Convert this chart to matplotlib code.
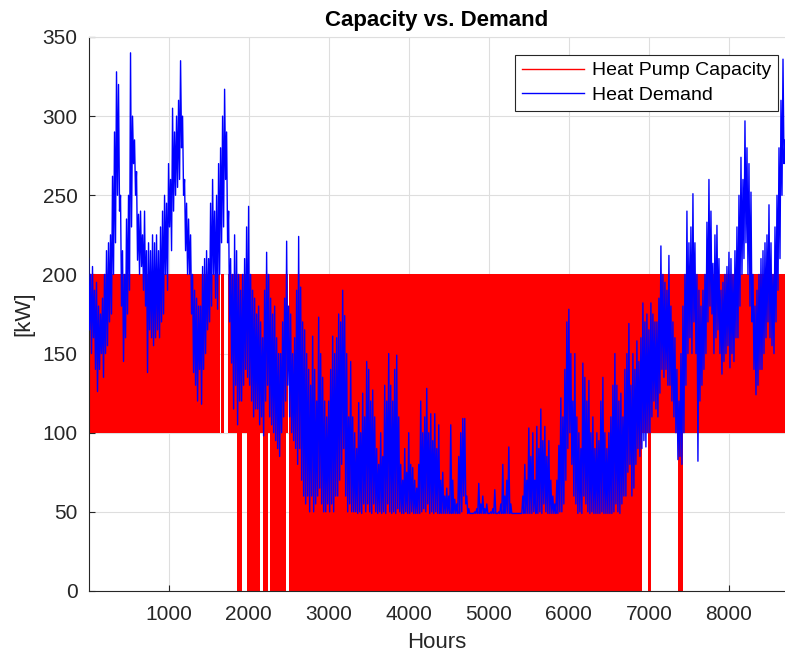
import numpy as np
import matplotlib
matplotlib.use("Agg")
import matplotlib.pyplot as plt
from matplotlib.lines import Line2D

plt.rcParams['font.family'] = ['Liberation Sans', 'DejaVu Sans']

# ---- heat demand (kW): for every 25 h window the
# daily peak (upper) and the daily low (lower); one row = 100 h
demand_step_h = 25
demand_upper_kw = [
    210, 200, 205, 190,   195, 180, 175, 185,   200, 215, 220, 225,   262, 290, 328, 320,
    250, 215, 200, 235,   250, 340, 300, 285,   265, 238, 240, 225,   240, 215, 220, 215,
    225, 220, 225, 215,   230, 240, 250, 245,   270, 260, 305, 290,   300, 310, 335, 300,
    260, 245, 235, 225,   200, 190, 185, 180,   180, 205, 210, 215,   210, 245, 260, 240,
    250, 270, 280, 300,   317, 290, 240, 210,   200, 225, 215, 200,   190, 200, 210, 230,
    243, 200, 190, 185,   175, 180, 170, 160,   190, 214, 200, 185,   175, 180, 160, 150,
    150, 170, 185, 221,   180, 175, 150, 160,   190, 224, 192, 170,   165, 150, 140, 130,
    161, 140, 120, 173,   150, 135, 120, 110,   120, 140, 161, 150,   160, 175, 170, 190,
    174, 150, 110, 145,   110, 100, 90, 119,    100, 125, 110, 145,   140, 120, 127, 110,
    90, 80, 100, 85,      130, 120, 150, 130,   120, 140, 149, 110,   80, 70, 90, 75,
    100, 80, 78, 70,      65, 80, 120, 100,     110, 128, 100, 112,   95, 112, 90, 105,
    70, 75, 60, 65,       60, 105, 70, 58,      55, 85, 100, 109,     109, 60, 52, 49,
    49, 50, 52, 68,       55, 60, 52, 55,       49, 50, 52, 64,       49, 50, 55, 80,
    60, 70, 91, 55,       49, 49, 49, 49,       49, 60, 80, 70,       103, 85, 100, 70,
    104, 90, 115, 95,     104, 85, 95, 70,      60, 55, 70, 92,       122, 110, 140, 170,
    178, 150, 120, 150,   110, 100, 90, 144,    135, 120, 133, 100,   110, 90, 100, 95,
    120, 135, 100, 90,    100, 110, 130, 150,   130, 120, 125, 110,   140, 150, 169, 130,
    150, 140, 158, 145,   160, 182, 170, 175,   165, 182, 175, 170,   170, 185, 218, 200,
    195, 190, 212, 180,   170, 160, 140, 120,   150, 180, 200, 240,   220, 230, 251, 220,
    200, 190, 180, 190,   200, 233, 260, 240,   207, 225, 231, 210,   190, 195, 200, 205,
    214, 210, 200, 215,   230, 250, 274, 260,   297, 280, 270, 252,   200, 180, 190, 200,
    210, 215, 220, 225,   244, 220, 200, 230,   250, 280, 310, 336,
    285,
]
demand_lower_kw = [
    165, 150, 160, 140,   126, 140, 150, 135,   150, 155, 170, 175,   200, 220, 250, 240,
    180, 145, 160, 175,   190, 230, 270, 250,   209, 200, 205, 190,   180, 138, 165, 160,
    155, 160, 165, 160,   170, 175, 200, 190,   230, 215, 240, 250,   255, 260, 280, 250,
    215, 200, 200, 175,   138, 130, 120, 140,   118, 140, 150, 165,   170, 180, 200, 185,
    178, 200, 220, 230,   260, 220, 170, 144,   115, 130, 105, 120,   120, 130, 140, 135,
    130, 120, 110, 115,   115, 105, 110, 98,    120, 130, 110, 105,   100, 95, 90, 85,
    100, 110, 120, 130,   110, 100, 95, 90,    80, 90, 70, 60,       55, 60, 50, 60,
    50, 55, 60, 65,       55, 50, 50, 55,      50, 55, 50, 60,       60, 70, 80, 90,
    60, 50, 55, 50,       50, 50, 49, 50,      49, 55, 50, 55,       50, 49, 55, 50,
    49, 50, 49, 50,       49, 55, 50, 49,      50, 49, 52, 50,       49, 49, 50, 49,
    49, 50, 49, 49,       49, 49, 50, 52,      50, 55, 49, 50,       49, 50, 49, 49,
    49, 49, 49, 49,       49, 49, 49, 49,      49, 49, 50, 60,       55, 49, 49, 49,
    49, 49, 49, 49,       49, 49, 49, 49,      49, 49, 49, 49,       49, 49, 49, 49,
    49, 49, 49, 49,       49, 49, 49, 49,      49, 49, 49, 49,       49, 49, 50, 49,
    49, 50, 49, 55,       50, 49, 49, 49,      49, 49, 49, 50,       50, 55, 70, 90,
    100, 80, 60, 55,      49, 50, 49, 60,      55, 50, 49, 50,       49, 49, 49, 49,
    50, 49, 49, 49,       49, 49, 50, 55,      50, 49, 55, 60,       60, 75, 80, 60,
    65, 80, 90, 85,       90, 95, 91, 100,     100, 110, 120, 115,   110, 125, 140, 135,
    140, 130, 130, 120,   110, 100, 83, 85,    80, 100, 130, 150,    160, 150, 170, 150,
    82, 120, 130, 140,    150, 170, 180, 175,  150, 160, 165, 150,   137, 145, 150, 155,
    141, 150, 145, 160,   160, 180, 200, 210,  220, 200, 180, 170,   140, 124, 130, 140,
    140, 150, 160, 170,   160, 155, 150, 170,  190, 210, 250, 270,
    280,
]

# ---- heat pump capacity: the output switches hourly between two stages,
# so it shows as a band; periods (start, end) with lower / upper stage (kW)
cap_start = [0, 3, 1660, 1740, 1850, 1920, 1975, 2140, 2175, 2245, 2270, 2470, 2510, 6910, 6990, 7020, 7360, 7420]
cap_end   = [3, 1641, 1690, 1850, 1920, 1975, 2140, 2175, 2245, 2270, 2470, 2495, 6910, 6990, 7020, 7360, 7420, 8760]
cap_low   = [0, 100, 100, 100, 0, 100, 0, 100, 0, 100, 0, 100, 0, 100, 0, 100, 0, 100]
cap_high  = [200, 200, 200, 200, 200, 200, 200, 200, 200, 200, 200, 200, 200, 200, 200, 200, 200, 200]

x_ticks = [1000, 2000, 3000, 4000, 5000, 6000, 7000, 8000]
y_ticks = [0, 50, 100, 150, 200, 250, 300, 350]

# peak and low of each window, one after the other
hours_up = np.arange(len(demand_upper_kw)) * demand_step_h
hours_lo = hours_up + demand_step_h / 2
demand_hours = np.column_stack([hours_up, hours_lo]).ravel()
demand_kw = np.column_stack([demand_upper_kw, demand_lower_kw]).ravel()

fig = plt.figure(figsize=(7.85, 6.6), dpi=100)
ax = fig.add_axes([88.5 / 785, 69 / 660, 696.5 / 785, 554 / 660])

# capacity band
c_start = np.array(cap_start)
c_end = np.array(cap_end)
c_low = np.array(cap_low)
c_high = np.array(cap_high)
ax.bar(c_start, c_high - c_low, width=c_end - c_start, bottom=c_low, align='edge',
       color='#ff0000', linewidth=0, zorder=2)

# demand line
ax.plot(demand_hours, demand_kw, color='#0000ff', lw=1.0, zorder=3)

ax.set_xlim(0, 8700)
ax.set_ylim(0, 350)
ax.set_xticks(x_ticks)
ax.set_yticks(y_ticks)
ax.tick_params(direction='in', length=4, labelsize=15, colors='#262626', width=0.8)
ax.tick_params(axis='x', pad=10)
ax.tick_params(axis='y', pad=8)

ax.grid(True, color='#dedede', lw=0.8)
ax.set_axisbelow(True)
ax.spines['right'].set_visible(False)
ax.spines['top'].set_color('#dedede')
ax.spines['left'].set_color('#262626')
ax.spines['bottom'].set_color('#262626')

ax.set_xlabel('Hours', fontsize=16, color='#262626', labelpad=6)
ax.set_ylabel('[kW]', fontsize=16, color='#262626', labelpad=6)
ax.set_title('Capacity vs. Demand', fontsize=16, fontweight='bold', pad=8)

handles = [Line2D([], [], color='#ff0000', lw=1.0),
           Line2D([], [], color='#0000ff', lw=1.0)]
leg = ax.legend(handles, ['Heat Pump Capacity', 'Heat Demand'], loc='upper right',
                bbox_to_anchor=(778 / 785, 1 - 55 / 660), bbox_transform=fig.transFigure,
                borderaxespad=0, fontsize=14, fancybox=False, framealpha=1,
                edgecolor='#262626', handlelength=3.2, handletextpad=0.4,
                labelspacing=0.35, borderpad=0.35)
leg.get_frame().set_linewidth(0.8)

fig.savefig('out.png', dpi=100)
